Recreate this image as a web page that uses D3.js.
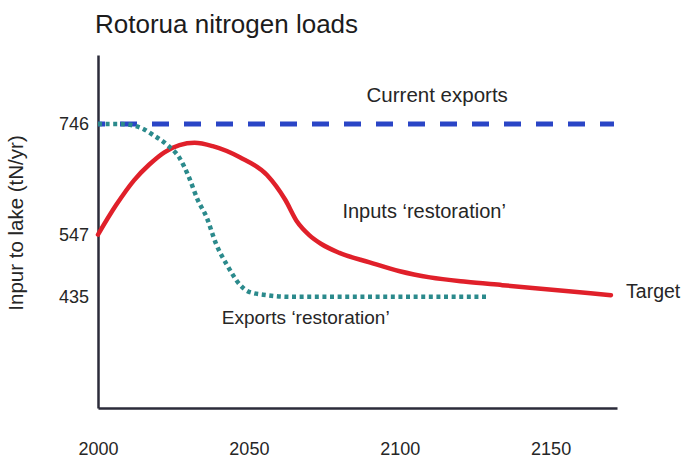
<!DOCTYPE html>
<html>
<head>
<meta charset="utf-8">
<script src="https://cdn.jsdelivr.net/npm/d3@7"></script>
<style>
  html, body { margin: 0; padding: 0; background: #ffffff; }
  svg { display: block; }
  text { font-family: "Liberation Sans", Arial, Helvetica, sans-serif; fill: #262626; }
</style>
</head>
<body>
<svg id="chart" width="683" height="459"></svg>
<script>
// ---- data ----
const xTicks = [2000, 2050, 2100, 2150];
const yTicks = [435, 547, 746];

const currentYears = [2000, 2171];
const currentValues = [746, 746];

const inputYears  = [2000, 2006, 2012, 2017, 2022, 2027, 2032, 2038, 2047, 2056, 2062, 2066, 2070, 2074, 2080, 2090, 2100, 2110, 2122, 2134, 2144, 2156, 2170];
const inputValues = [547,  600,  645,  673,  695,  708,  712,  706,  686,  654,  610,  570,  546,  530,  514,  497,  481,  470,  462,  456,  451,  445,  438];

const exportYears  = [2000, 2007, 2011, 2015, 2018, 2023, 2027, 2030, 2033, 2036, 2039, 2043, 2047, 2050, 2056, 2064, 2129];
const exportValues = [746,  746,  744,  737,  727,  708,  685,  652,  610,  578,  532,  490,  457,  444,  438,  435,  435];

const labels = [
  {text: "Current exports", year: 2089, value: 786},
  {text: "Inputs \u2018restoration\u2019", year: 2081, value: 577},
  {text: "Exports \u2018restoration\u2019", year: 2041, value: 387},
  {text: "Target", year: 2175, value: 432}
];

// ---- layout ----
const svg = d3.select("#chart");
const x = d3.scaleLinear().domain([2000, 2172]).range([98, 617]);
const y = d3.scaleLinear().domain([235, 870]).range([408, 55]);
const FONT = "'Liberation Sans', Arial, Helvetica, sans-serif";

// title
svg.append("text")
  .attr("x", 95).attr("y", 33)
  .attr("font-size", 26)
  .style("fill", "#1c1c1c")
  .text("Rotorua nitrogen loads");

// y axis title
svg.append("text")
  .attr("transform", "translate(23,223) rotate(-90)")
  .attr("text-anchor", "middle")
  .attr("font-size", 20.5)
  .text("Inpur to lake (tN/yr)");

// axes
const xAxis = svg.append("g")
  .attr("transform", "translate(0,408)")
  .call(d3.axisBottom(x).tickValues(xTicks).tickFormat(d3.format("d")).tickSize(0).tickPadding(34).tickSizeOuter(0));
const yAxis = svg.append("g")
  .attr("transform", "translate(98,0)")
  .call(d3.axisLeft(y).tickValues(yTicks).tickSize(0).tickPadding(9).tickSizeOuter(0));

[xAxis, yAxis].forEach(g => {
  g.attr("font-family", FONT);
  g.select(".domain").attr("stroke", "#2b2b3a").attr("stroke-width", 2.5);
  g.selectAll("text").attr("font-size", 18)
    .style("fill", "#262626")
    .style("font-family", FONT);
});

// lines
const line = (xs, vs, curve) => d3.line()
  .x((d, i) => x(xs[i]))
  .y(d => y(d))
  .curve(curve)(vs);

svg.append("path")
  .attr("d", line(currentYears, currentValues, d3.curveLinear))
  .attr("fill", "none")
  .attr("stroke", "#2a45c6")
  .attr("stroke-width", 5)
  .attr("stroke-dasharray", "17,15")
  .attr("stroke-dashoffset", 10);

svg.append("path")
  .attr("d", line(inputYears, inputValues, d3.curveMonotoneX))
  .attr("fill", "none")
  .attr("stroke", "#e0202a")
  .attr("stroke-width", 4.5)
  .attr("stroke-linecap", "round")
  .attr("stroke-linejoin", "round");

svg.append("path")
  .attr("d", line(exportYears, exportValues, d3.curveMonotoneX))
  .attr("fill", "none")
  .attr("stroke", "#2b8a8c")
  .attr("stroke-width", 4.5)
  .attr("stroke-dasharray", "4,3.6");

// annotations
const labelSizes = [20.5, 20, 19, 19.5];
svg.selectAll("text.lbl")
  .data(labels)
  .enter().append("text")
  .attr("class", "lbl")
  .attr("x", d => x(d.year))
  .attr("y", d => y(d.value))
  .attr("font-size", (d, i) => labelSizes[i])
  .text(d => d.text);
</script>
</body>
</html>
